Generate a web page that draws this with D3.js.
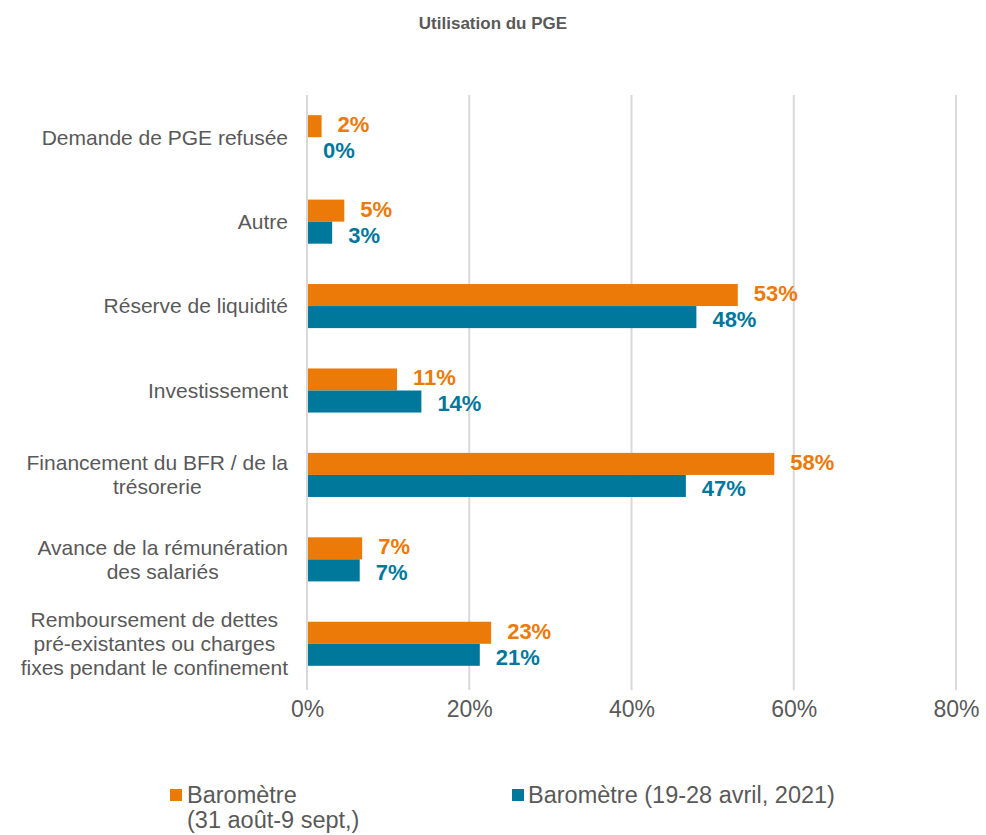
<!DOCTYPE html>
<html>
<head>
<meta charset="utf-8">
<script src="https://cdn.jsdelivr.net/npm/d3@7"></script>
<style>
  body { margin: 0; background: #fff; }
  text { font-family: "Liberation Sans", Arial, sans-serif; }
</style>
</head>
<body>
<svg id="chart" width="986" height="835"></svg>
<script>
// Data
const categories = [
  ["Demande de PGE refusée"],
  ["Autre"],
  ["Réserve de liquidité"],
  ["Investissement"],
  ["Financement du BFR / de la", "trésorerie"],
  ["Avance de la rémunération", "des salariés"],
  ["Remboursement de dettes", "pré-existantes ou charges", "fixes pendant le confinement"]
];
const seriesNames = ["Baromètre (31 août-9 sept,)", "Baromètre (19-28 avril, 2021)"];
const septValues = [1.8, 4.6, 53.1, 11.1, 57.6, 6.8, 22.7];
const avrilValues = [0, 3.1, 48.0, 14.1, 46.7, 6.5, 21.3];
const xTicks = [0, 20, 40, 60, 80];

const colors = ["#EC7A08", "#00789C"];
const grey = "#595959";

const svg = d3.select("#chart");

// Title
svg.append("text")
  .attr("x", 493).attr("y", 29)
  .attr("text-anchor", "middle")
  .attr("font-size", 17).attr("font-weight", "bold")
  .attr("fill", grey)
  .text("Utilisation du PGE");

// Scales
const x = d3.scaleLinear().domain([0, 80]).range([307, 956]);
const y = d3.scaleBand()
  .domain(d3.range(categories.length))
  .range([95, 686])
  .paddingInner(0.478)
  .paddingOuter(0.239);
const ySub = d3.scaleBand().domain([0, 1]).range([0, y.bandwidth()]);

// Gridlines
svg.append("g")
  .selectAll("line")
  .data(xTicks)
  .join("line")
  .attr("x1", d => x(d)).attr("x2", d => x(d))
  .attr("y1", 95).attr("y2", 690)
  .attr("stroke", "#D9D9D9").attr("stroke-width", 2);

// X axis tick labels
const xAxis = d3.axisBottom(x).tickValues(xTicks).tickSize(0).tickPadding(0).tickFormat(d => d + "%");
svg.append("g")
  .attr("transform", "translate(0,701)")
  .call(xAxis)
  .call(g => g.select(".domain").remove())
  .call(g => g.selectAll("text")
    .attr("font-size", 23).attr("fill", grey)
    .attr("font-family", "Liberation Sans, Arial, sans-serif"));

// Bars
const rows = categories.map((c, i) => ({ i, values: [septValues[i], avrilValues[i]] }));
const groups = svg.append("g").selectAll("g")
  .data(rows)
  .join("g")
  .attr("transform", d => `translate(0,${y(d.i)})`);

groups.selectAll("rect")
  .data(d => d.values.map((v, s) => ({ v, s })))
  .join("rect")
  .attr("x", x(0))
  .attr("y", d => ySub(d.s))
  .attr("width", d => x(d.v) - x(0))
  .attr("height", ySub.bandwidth())
  .attr("fill", d => colors[d.s]);

// value labels, nudged apart a little so the two rows don't collide
groups.selectAll("text.val")
  .data(d => d.values.map((v, s) => ({ v, s })))
  .join("text")
  .attr("class", "val")
  .attr("x", d => x(d.v) + 16)
  .attr("y", d => ySub(d.s) + ySub.bandwidth() / 2 + (d.s === 0 ? -2 : 2))
  .attr("dy", "0.36em")
  .attr("font-size", 22).attr("font-weight", "bold")
  .attr("fill", d => colors[d.s])
  .text(d => Math.round(d.v) + "%");

// Category labels (centered block, right aligned to the axis)
const lineH = 24;
categories.forEach((lines, i) => {
  const cy = y(i) + y.bandwidth() / 2;
  const t = svg.append("text")
    .attr("font-size", 21).attr("fill", grey)
    .attr("text-anchor", "middle");
  lines.forEach((ln, k) => {
    t.append("tspan")
      .attr("y", cy + (k - (lines.length - 1) / 2) * lineH)
      .attr("dy", "0.35em")
      .text(ln);
  });
  const w = d3.max(t.selectAll("tspan").nodes(), n => n.getComputedTextLength());
  t.selectAll("tspan").attr("x", 288 - w / 2);
});

// Left axis line
svg.append("line")
  .attr("x1", x(0)).attr("x2", x(0))
  .attr("y1", 95).attr("y2", 690)
  .attr("stroke", "#D9D9D9").attr("stroke-width", 2);

// Legend
const legend = svg.append("g").attr("font-size", 23.5).attr("fill", grey);
legend.append("rect").attr("x", 170).attr("y", 789).attr("width", 12).attr("height", 12).attr("fill", colors[0]);
legend.append("text").attr("x", 187).attr("y", 795).attr("dy", "0.35em").text("Baromètre");
legend.append("text").attr("x", 187).attr("y", 820).attr("dy", "0.35em").text("(31 août-9 sept,)");
legend.append("rect").attr("x", 512).attr("y", 789).attr("width", 12).attr("height", 12).attr("fill", colors[1]);
legend.append("text").attr("x", 528).attr("y", 795).attr("dy", "0.35em").text(seriesNames[1]);
</script>
</body>
</html>
